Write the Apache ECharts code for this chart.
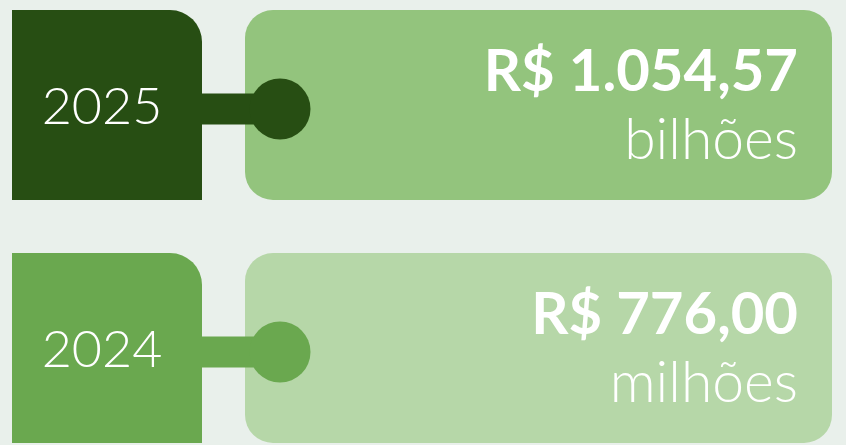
<!DOCTYPE html>
<html><head><meta charset="utf-8">
<script src="https://cdn.jsdelivr.net/npm/echarts@6/dist/echarts.min.js"></script>
<style>html,body{margin:0;padding:0;background:#e9f0eb}#c{width:846px;height:445px}</style>
</head><body><div id="c"></div>
<script>
const years = ['2025', '2024'];
const valueLabels = ['R$ 1.054,57', 'R$ 776,00'];
const unitLabels = ['bilhões', 'milhões'];
const darkColors = ['#274e13', '#6aa84f'];
const lightColors = ['#93c47d', '#b6d7a8'];

const chart = echarts.init(document.getElementById('c'), null, {renderer: 'canvas'});
const LIGHT = '"Lato Light", "Lato Hairline", Lato';
chart.setOption({
  backgroundColor: '#e9f0eb',
  animation: false,
  grid: {left: 0, right: 0, top: 105, bottom: 97},
  xAxis: {type: 'value', min: 0, max: 846, show: false},
  yAxis: {type: 'category', data: years, inverse: true, boundaryGap: false, show: false},
  series: [{
    type: 'custom',
    data: years.map((y, i) => [423, i]),
    renderItem: function (params, api) {
      const i = api.value(1);
      const p = api.coord([0, i]);
      const cy = p[1];
      const top = cy - 95, h = 190;
      return {
        type: 'group',
        children: [
          {type: 'rect', shape: {x: 245, y: top, width: 587, height: h, r: 28},
           style: {fill: lightColors[i]}},
          {type: 'rect', shape: {x: 12, y: top, width: 190, height: h, r: [0, 32, 0, 0]},
           style: {fill: darkColors[i]}},
          {type: 'rect', shape: {x: 200, y: cy + 4 - 15.5, width: 80, height: 31},
           style: {fill: darkColors[i]}},
          {type: 'circle', shape: {cx: 280, cy: cy + 4, r: 30.5},
           style: {fill: darkColors[i]}},
          {type: 'text', style: {text: years[i], x: 102, y: cy + 2, align: 'center', verticalAlign: 'middle',
            font: '300 52px ' + LIGHT, fill: '#ffffff'}},
          {type: 'text', style: {text: valueLabels[i], x: 798, y: cy - 33, align: 'right', verticalAlign: 'middle',
            font: 'bold 58px Lato', fill: '#ffffff'}},
          {type: 'text', style: {text: unitLabels[i], x: 798, y: cy + 36, align: 'right', verticalAlign: 'middle',
            font: '300 57px ' + LIGHT, fill: '#ffffff'}}
        ]
      };
    }
  }]
});
</script></body></html>
